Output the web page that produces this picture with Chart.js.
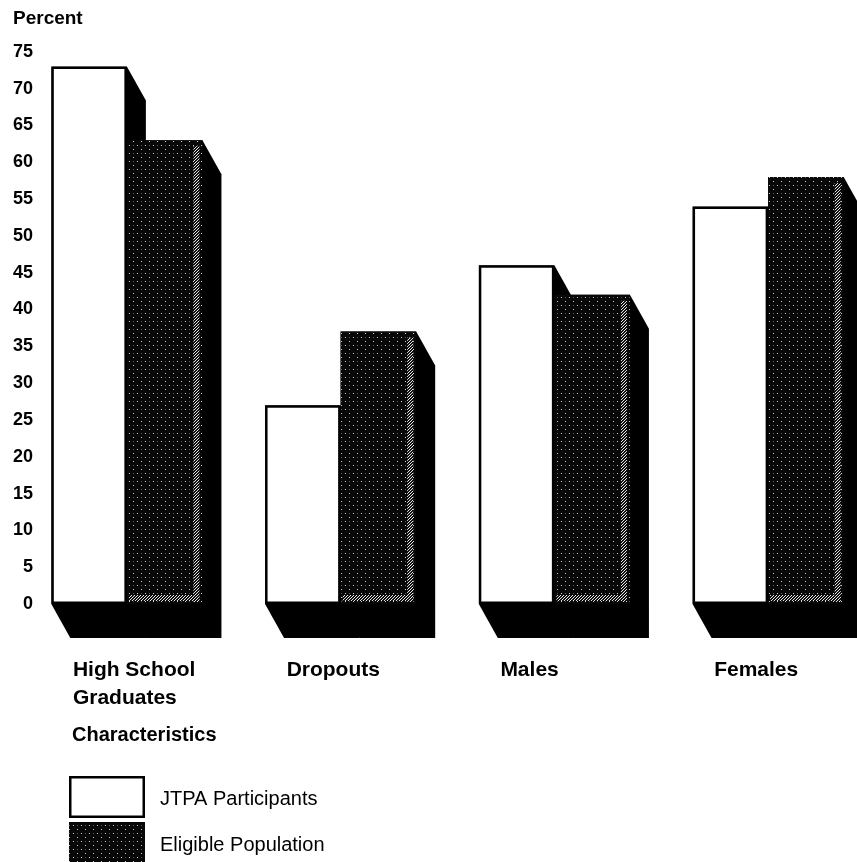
<!DOCTYPE html>
<html><head><meta charset="utf-8">
<style>html,body{margin:0;padding:0;background:#fff;overflow:hidden;} canvas{display:block;}</style>
<script src="https://cdn.jsdelivr.net/npm/chart.js@4"></script>
</head><body>
<canvas id="c" width="875" height="862" style="width:875px;height:862px"></canvas>
<script>
// ---- data ----
const categories = [['High School', 'Graduates'], 'Dropouts', 'Males', 'Females'];
const jtpaParticipants = [73, 27, 46, 54];
const eligiblePopulation = [63, 37, 42, 58];
const seriesNames = ['JTPA Participants', 'Eligible Population'];
const yMin = 0, yMax = 75, yStep = 5;
const yAxisTitle = 'Percent';
const xAxisTitle = 'Characteristics';

// ---- styles ----
const FONT = "'Liberation Sans', Arial, Helvetica, sans-serif";
Chart.defaults.font.family = FONT;
Chart.defaults.color = '#000';
const DX = 19, DY = 34;

function tile(draw, n) {
  const t = document.createElement('canvas');
  t.width = n; t.height = n;
  draw(t.getContext('2d'));
  return document.getElementById('c').getContext('2d').createPattern(t, 'repeat');
}
const stipple = tile(g => {
  g.fillStyle = '#080808'; g.fillRect(0, 0, 8, 8);
  g.fillStyle = '#cfcfcf'; g.fillRect(1, 1, 1, 1); g.fillRect(5, 5, 1, 1);
  g.fillStyle = '#555'; g.fillRect(5, 1, 1, 1);
}, 8);
const checker = tile(g => {
  g.fillStyle = '#111'; g.fillRect(0, 0, 3, 3);
  g.fillStyle = '#e6e6e6'; g.fillRect(0, 0, 1, 1); g.fillRect(2, 1, 1, 1); g.fillRect(1, 2, 1, 1);
}, 3);

const shadowPlugin = {
  id: 'shadow3d',
  beforeDatasetsDraw(chart) {
    const ctx = chart.ctx;
    ctx.save();
    ctx.fillStyle = '#000';
    chart.data.datasets.forEach((d, i) => {
      chart.getDatasetMeta(i).data.forEach(el => {
        const p = el.getProps(['x', 'y', 'base', 'width'], true);
        const l = p.x - p.width / 2, r = p.x + p.width / 2, t = p.y, b = p.base;
        ctx.beginPath();
        ctx.moveTo(l, t); ctx.lineTo(r, t); ctx.lineTo(r + DX, t + DY);
        ctx.lineTo(r + DX, b + DY); ctx.lineTo(l + DX, b + DY); ctx.lineTo(l, b);
        ctx.closePath(); ctx.fill();
      });
    });
    ctx.restore();
  },
  afterDatasetsDraw(chart) {
    // lighter screened edges of the stippled bars
    const ctx = chart.ctx;
    ctx.save();
    ctx.fillStyle = checker;
    chart.getDatasetMeta(1).data.forEach(el => {
      const p = el.getProps(['x', 'y', 'base', 'width'], true);
      const l = p.x - p.width / 2, r = p.x + p.width / 2, t = p.y, b = p.base;
      ctx.fillRect(r - 9, t + 6, 6, b - t - 8);
      ctx.fillRect(l + 2, b - 9, r - l - 5, 6);
    });
    ctx.restore();
  }
};

const legendPlugin = {
  id: 'stackLegend',
  afterDraw(chart) {
    const ctx = chart.ctx;
    ctx.save();
    ctx.fillStyle = '#000';
    ctx.textBaseline = 'middle';
    ctx.textAlign = 'left';
    ctx.font = "bold 20px " + FONT;
    ctx.fillText(xAxisTitle, 72, 735);
    const boxX = 69, boxW = 76, boxH = 42;
    const rows = [776, 822];
    chart.data.datasets.forEach((d, i) => {
      const y = rows[i];
      ctx.fillStyle = d.backgroundColor;
      ctx.fillRect(boxX, y, boxW, boxH + (i === 1 ? 6 : 0));
      if (i === 0) {
        ctx.lineWidth = 2.5; ctx.strokeStyle = '#000';
        ctx.strokeRect(boxX + 1.25, y + 1.25, boxW - 2.5, boxH - 2.5);
      }
      ctx.fillStyle = '#000';
      ctx.font = "20px " + FONT;
      ctx.fillText(d.label, 160, y + 23);
    });
    ctx.restore();
  }
};

new Chart(document.getElementById('c'), {
  type: 'bar',
  data: {
    labels: categories,
    datasets: [
      { label: seriesNames[0], data: jtpaParticipants, backgroundColor: '#ffffff',
        borderColor: '#000', borderWidth: 2.5, borderSkipped: false },
      { label: seriesNames[1], data: eligiblePopulation, backgroundColor: stipple,
        borderColor: '#000', borderWidth: 0 }
    ]
  },
  options: {
    responsive: false,
    animation: false,
    devicePixelRatio: 1,
    layout: { padding: { left: 13, right: 0, top: 0, bottom: 0 } },
    datasets: { bar: { barPercentage: 1, categoryPercentage: 0.707 } },
    plugins: {
      legend: { display: false },
      tooltip: { enabled: false },
      title: {
        display: true, text: yAxisTitle, align: 'start', color: '#000',
        font: { size: 19, weight: 'bold' }, padding: { top: 7, bottom: 22 }
      }
    },
    scales: {
      x: {
        grid: { display: false, drawTicks: true, tickLength: 52 },
        border: { display: false },
        ticks: {
          align: 'start', labelOffset: -54, padding: 0, color: '#000',
          font: { size: 21, weight: 'bold', lineHeight: 1.333 }, maxRotation: 0, autoSkip: false
        },
        afterFit(s) { s.height = 258; s.paddingLeft = 0; s.paddingRight = 0; }
      },
      y: {
        min: yMin, max: yMax,
        grid: { display: false, drawTicks: false },
        border: { display: false },
        ticks: {
          stepSize: yStep, mirror: true, crossAlign: 'far', padding: -7, color: '#000',
          font: { size: 18, weight: 'bold' }
        },
        afterFit(s) { s.width = 7; }
      }
    }
  },
  plugins: [shadowPlugin, legendPlugin]
});
</script>
</body></html>
